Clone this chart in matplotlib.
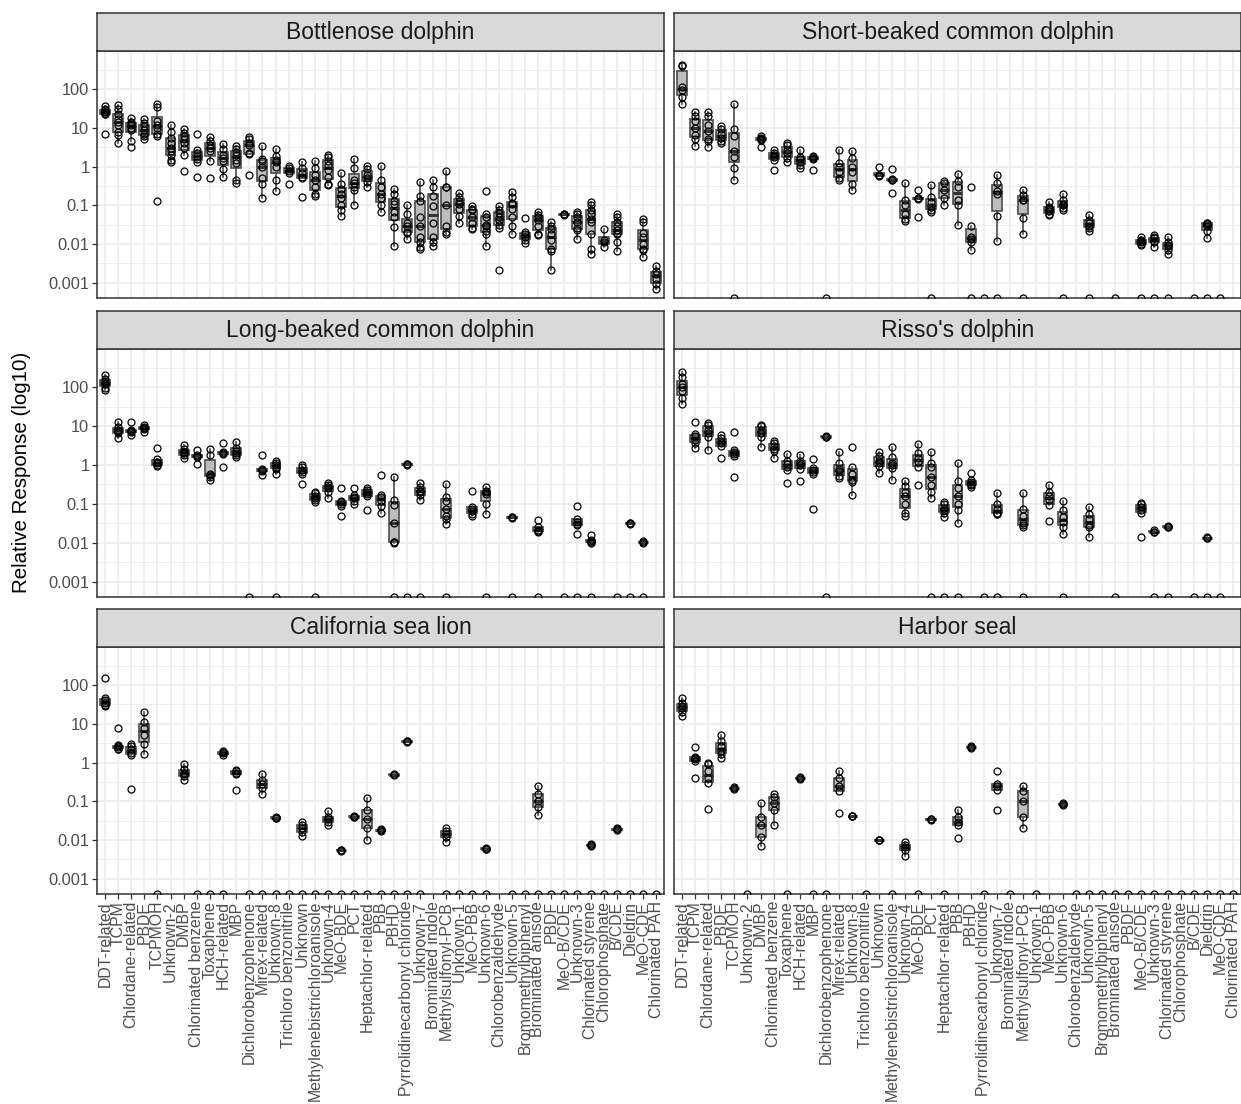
import numpy as np
import matplotlib
matplotlib.use("Agg")
import matplotlib.pyplot as plt
from matplotlib import cbook
from matplotlib.ticker import FixedLocator, NullFormatter

plt.rcParams['font.family'] = ['Liberation Sans', 'DejaVu Sans']

# categories on the x axis, in plot order
categories = [
    "DDT-related", "TCPM", "Chlordane-related", "PBDE", "TCPMOH", "Unknown-2", "DMBP",
    "Chlorinated benzene", "Toxaphene", "HCH-related", "MBP", "Dichlorobenzophenone",
    "Mirex-related", "Unknown-8", "Trichloro benzonitrile", "Unknown",
    "Methylenebistrichloroanisole", "Unknown-4", "MeO-BDE", "PCT", "Heptachlor-related",
    "PBB", "PBHD", "Pyrrolidinecarbonyl chloride", "Unknown-7", "Brominated indole",
    "Methylsulfonyl-PCB", "Unknown-1", "MeO-PBB", "Unknown-6", "Chlorobenzaldehyde",
    "Unknown-5", "Bromomethylbiphenyl", "Brominated anisole", "PBDF", "MeO-B/CDE",
    "Unknown-3", "Chlorinated styrene", "Chlorophosphate", "B/CDE", "Dieldrin", "MeO-CDE",
    "Chlorinated PAH",
]

# relative responses per individual (0 = not detected, drawn on the bottom edge)
bottlenose = {
    "DDT-related": [37, 30, 28, 26, 25, 23, 22, 6.8],
    "TCPM": [38, 30, 22, 17, 14, 12, 8, 6.5, 4],
    "Chlordane-related": [18, 14, 13, 12, 10, 9, 4.6, 3.2],
    "PBDE": [17, 13, 11, 9, 7, 6, 5],
    "TCPMOH": [40, 35, 15, 12, 10, 7, 6, 0.13],
    "Unknown-2": [12, 8, 5.5, 4, 3, 2.5, 2, 1.5, 1.3],
    "DMBP": [9.5, 7.5, 6, 5, 4, 3, 2, 0.75],
    "Chlorinated benzene": [7, 2.6, 2.2, 1.9, 1.6, 1.3, 0.55],
    "Toxaphene": [5.8, 4.5, 3.5, 3, 2.5, 1.4, 0.5],
    "HCH-related": [3.8, 2.8, 2, 1.7, 1.4, 0.85, 0.53],
    "MBP": [3.3, 2.8, 2.4, 2, 1.5, 1.2, 0.45, 0.38],
    "Dichlorobenzophenone": [5.9, 5, 4, 3.5, 2.2, 2.1, 0.6],
    "Mirex-related": [3.3, 1.6, 1.4, 1.0, 0.5, 0.35, 0.15],
    "Unknown-8": [2.8, 1.9, 1.5, 1.3, 1.0, 0.45, 0.24],
    "Trichloro benzonitrile": [1.05, 0.9, 0.75, 0.7, 0.36],
    "Unknown": [1.3, 0.9, 0.7, 0.55, 0.5, 0.16],
    "Methylenebistrichloroanisole": [1.4, 0.9, 0.6, 0.45, 0.3, 0.2, 0.17],
    "Unknown-4": [2.0, 1.8, 1.4, 1.1, 0.8, 0.55, 0.35, 0.33],
    "MeO-BDE": [0.68, 0.35, 0.27, 0.2, 0.15, 0.1, 0.075, 0.053],
    "PCT": [1.55, 0.9, 0.45, 0.38, 0.3, 0.25, 0.1],
    "Heptachlor-related": [1.05, 0.85, 0.6, 0.5, 0.4, 0.3],
    "PBB": [1.05, 0.45, 0.3, 0.2, 0.15, 0.1, 0.067],
    "PBHD": [0.27, 0.2, 0.13, 0.11, 0.067, 0.05, 0.027, 0.0087],
    "Pyrrolidinecarbonyl chloride": [0.1, 0.059, 0.035, 0.03, 0.021, 0.019, 0.0135],
    "Unknown-7": [0.4, 0.17, 0.13, 0.05, 0.03, 0.015, 0.011, 0.0084, 0.0076],
    "Brominated indole": [0.46, 0.3, 0.17, 0.094, 0.035, 0.015, 0.011, 0.0092],
    "Methylsulfonyl-PCB": [0.77, 0.3, 0.3, 0.1, 0.03, 0.02, 0.0185],
    "Unknown-1": [0.21, 0.16, 0.127, 0.11, 0.08, 0.052, 0.034],
    "MeO-PBB": [0.094, 0.082, 0.074, 0.05, 0.035, 0.026, 0.025],
    "Unknown-6": [0.23, 0.061, 0.05, 0.032, 0.03, 0.0217, 0.0185, 0.0092],
    "Chlorobenzaldehyde": [0.094, 0.074, 0.063, 0.05, 0.041, 0.032, 0.026, 0.0021],
    "Unknown-5": [0.22, 0.16, 0.115, 0.11, 0.08, 0.05, 0.03, 0.0185],
    "Bromomethylbiphenyl": [0.048, 0.02, 0.0185, 0.015, 0.013, 0.0106],
    "Brominated anisole": [0.067, 0.055, 0.05, 0.041, 0.029, 0.0178, 0.0168],
    "PBDF": [0.037, 0.03, 0.025, 0.0185, 0.013, 0.0076, 0.0066, 0.0021],
    "MeO-B/CDE": [0.06, 0.058, 0.056],
    "Unknown-3": [0.067, 0.059, 0.05, 0.037, 0.026, 0.0225, 0.0137],
    "Chlorinated styrene": [0.122, 0.1, 0.074, 0.061, 0.045, 0.037, 0.0185, 0.0076, 0.0056],
    "Chlorophosphate": [0.025, 0.013, 0.011, 0.0084],
    "B/CDE": [0.061, 0.05, 0.037, 0.029, 0.0235, 0.019, 0.0178, 0.0112, 0.0066],
    "MeO-CDE": [0.045, 0.037, 0.019, 0.0152, 0.0102, 0.0076, 0.0069, 0.0046],
    "Chlorinated PAH": [0.0028, 0.002, 0.0017, 0.00126, 0.00094, 0.0007],
}

short_beaked = {
    "DDT-related": [420, 400, 110, 95, 63, 40],
    "TCPM": [26, 20, 15, 9.6, 6.5, 5, 3.4],
    "Chlordane-related": [26, 20, 12, 8.4, 5, 4.5, 3.2],
    "PBDE": [11, 9.5, 7, 5.5, 4.5, 4],
    "TCPMOH": [41, 9.5, 6, 2.5, 1.8, 0.9, 0.45, 0],
    "DMBP": [6.2, 5.5, 5, 4.8, 3.2],
    "Chlorinated benzene": [2.6, 2.3, 2.0, 1.8, 1.5, 0.8],
    "Toxaphene": [4.1, 3.5, 2.6, 2.2, 1.7, 1.3],
    "HCH-related": [2.6, 1.8, 1.6, 1.3, 1.1, 0.9],
    "MBP": [1.9, 1.8, 1.7, 1.6, 0.8],
    "Dichlorobenzophenone": [0],
    "Mirex-related": [2.75, 1.2, 1.0, 0.72, 0.5, 0.45],
    "Unknown-8": [2.5, 1.7, 1.0, 0.72, 0.35, 0.25],
    "Unknown": [0.98, 0.62, 0.6, 0.58],
    "Methylenebistrichloroanisole": [0.89, 0.48, 0.46, 0.44, 0.21],
    "Unknown-4": [0.38, 0.14, 0.1, 0.06, 0.045, 0.04],
    "MeO-BDE": [0.25, 0.155, 0.15, 0.145, 0.05],
    "PCT": [0.33, 0.16, 0.12, 0.09, 0.075, 0.067, 0],
    "Heptachlor-related": [0.42, 0.38, 0.25, 0.15, 0.1],
    "PBB": [0.63, 0.43, 0.3, 0.14, 0.1, 0.032],
    "PBHD": [0.3, 0.03, 0.015, 0.0138, 0.011, 0.007, 0],
    "Pyrrolidinecarbonyl chloride": [0],
    "Unknown-7": [0.6, 0.38, 0.23, 0.2, 0.052, 0.0117, 0],
    "Methylsulfonyl-PCB": [0.25, 0.19, 0.135, 0.135, 0.047, 0.0185, 0],
    "MeO-PBB": [0.12, 0.091, 0.08, 0.07, 0.061, 0.055],
    "Unknown-6": [0.2, 0.14, 0.11, 0.1, 0.085, 0.074, 0],
    "Unknown-5": [0.055, 0.043, 0.035, 0.03, 0.026, 0.022, 0],
    "Brominated anisole": [0],
    "MeO-B/CDE": [0.015, 0.013, 0.012, 0.011, 0.0098, 0.0095, 0],
    "Unknown-3": [0.0167, 0.015, 0.014, 0.012, 0.011, 0.0084, 0],
    "Chlorinated styrene": [0.015, 0.0115, 0.0095, 0.009, 0.0072, 0.0056, 0],
    "B/CDE": [0],
    "Dieldrin": [0.036, 0.035, 0.033, 0.03, 0.022, 0.014, 0],
    "MeO-CDE": [0],
}

long_beaked = {
    "DDT-related": [210, 160, 140, 130, 120, 95, 87],
    "TCPM": [12.5, 9.5, 8, 7.5, 6.5, 5],
    "Chlordane-related": [12.5, 8, 7.5, 7, 6],
    "PBDE": [10.5, 9.5, 9, 8.5, 7.2],
    "TCPMOH": [2.8, 1.4, 1.2, 1.1, 1.0, 0.95],
    "DMBP": [3.2, 2.6, 2.2, 2, 1.8, 1.5],
    "Chlorinated benzene": [2.4, 1.8, 1.7, 1.6, 1.05],
    "Toxaphene": [2.6, 1.8, 0.6, 0.55, 0.5, 0.42],
    "HCH-related": [3.6, 2.1, 2.0, 1.95, 0.9],
    "MBP": [3.8, 2.8, 2.3, 2.0, 1.8, 1.6],
    "Dichlorobenzophenone": [0],
    "Mirex-related": [1.8, 0.8, 0.75, 0.72, 0.55],
    "Unknown-8": [1.3, 1.15, 1.0, 0.9, 0.81, 0.6, 0],
    "Unknown": [0.98, 0.9, 0.75, 0.65, 0.6, 0.32],
    "Methylenebistrichloroanisole": [0.2, 0.19, 0.16, 0.14, 0.126, 0.11, 0],
    "Unknown-4": [0.35, 0.3, 0.28, 0.26, 0.2, 0.14],
    "MeO-BDE": [0.25, 0.12, 0.11, 0.1, 0.09, 0.048],
    "PCT": [0.26, 0.17, 0.15, 0.14, 0.12, 0.1],
    "Heptachlor-related": [0.26, 0.23, 0.2, 0.18, 0.16, 0.07],
    "PBB": [0.55, 0.17, 0.15, 0.12, 0.09, 0.06],
    "PBHD": [0.48, 0.13, 0.093, 0.032, 0.0105, 0.0105, 0.01, 0],
    "Pyrrolidinecarbonyl chloride": [1.06, 1.04, 1.02, 0],
    "Unknown-7": [0.35, 0.27, 0.22, 0.2, 0.167, 0.13, 0],
    "Methylsulfonyl-PCB": [0.32, 0.15, 0.12, 0.076, 0.05, 0.04, 0.031, 0],
    "MeO-PBB": [0.22, 0.085, 0.075, 0.065, 0.055, 0.048],
    "Unknown-6": [0.27, 0.22, 0.2, 0.18, 0.1, 0.056, 0],
    "Unknown-5": [0.047, 0.045, 0.044, 0],
    "Brominated anisole": [0.038, 0.025, 0.022, 0.02, 0.019, 0],
    "MeO-B/CDE": [0],
    "Unknown-3": [0.087, 0.042, 0.035, 0.03, 0.028, 0.0167, 0],
    "Chlorinated styrene": [0.0155, 0.012, 0.011, 0.0105, 0.01, 0],
    "B/CDE": [0],
    "Dieldrin": [0.033, 0.032, 0.031, 0],
    "MeO-CDE": [0.011, 0.0105, 0.01, 0],
}

rissos = {
    "DDT-related": [250, 180, 120, 100, 80, 52, 37],
    "TCPM": [13, 6.2, 5.5, 4.5, 3.6, 2.7],
    "Chlordane-related": [12, 10.8, 8, 6.5, 5.4, 2.4],
    "PBDE": [6, 4.9, 4.2, 3.6, 3, 1.5],
    "TCPMOH": [6.9, 2.4, 2.1, 1.9, 1.7, 0.5],
    "DMBP": [10.8, 10, 8, 6.5, 5.4, 2.9],
    "Chlorinated benzene": [4.2, 3.6, 3, 2.6, 2.3, 1.5],
    "Toxaphene": [1.9, 1.3, 1.05, 0.9, 0.74, 0.35],
    "HCH-related": [1.85, 1.3, 1.1, 1.0, 0.8, 0.4],
    "MBP": [1.4, 0.85, 0.75, 0.65, 0.6, 0.076],
    "Dichlorobenzophenone": [5.5, 5.4, 5.3, 0],
    "Mirex-related": [2.2, 1.1, 0.8, 0.7, 0.52, 0.46],
    "Unknown-8": [2.9, 0.9, 0.6, 0.42, 0.37, 0.17],
    "Unknown": [2.1, 1.66, 1.3, 1.1, 0.93, 0.64],
    "Methylenebistrichloroanisole": [2.9, 1.6, 1.1, 1.0, 0.82, 0.41],
    "Unknown-4": [0.4, 0.29, 0.2, 0.16, 0.1, 0.059, 0.05],
    "MeO-BDE": [3.5, 2.0, 1.5, 1.2, 0.9, 0.3],
    "PCT": [2.1, 1.1, 0.9, 0.5, 0.3, 0.2, 0.14, 0],
    "Heptachlor-related": [0.11, 0.098, 0.08, 0.07, 0.059, 0.045, 0],
    "PBB": [1.15, 0.39, 0.25, 0.16, 0.1, 0.07, 0.032, 0],
    "PBHD": [0.64, 0.41, 0.36, 0.33, 0.3, 0.28],
    "Pyrrolidinecarbonyl chloride": [0],
    "Unknown-7": [0.19, 0.1, 0.075, 0.06, 0.056, 0.055, 0],
    "Methylsulfonyl-PCB": [0.19, 0.076, 0.05, 0.032, 0.028, 0.025, 0],
    "MeO-PBB": [0.3, 0.2, 0.16, 0.13, 0.093, 0.036],
    "Unknown-6": [0.118, 0.07, 0.045, 0.035, 0.026, 0.0166, 0],
    "Unknown-5": [0.083, 0.054, 0.04, 0.028, 0.025, 0.014],
    "Brominated anisole": [0],
    "MeO-B/CDE": [0.105, 0.1, 0.085, 0.07, 0.059, 0.014],
    "Unknown-3": [0.021, 0.0195, 0.0185, 0],
    "Chlorinated styrene": [0.027, 0.026, 0.025, 0],
    "B/CDE": [0],
    "Dieldrin": [0.014, 0.0135, 0.013, 0],
    "MeO-CDE": [0],
}

sea_lion = {
    "DDT-related": [150, 45, 40, 35, 30, 28],
    "TCPM": [8, 2.8, 2.6, 2.5, 2.3, 2.2],
    "Chlordane-related": [3, 2.6, 2.2, 1.8, 1.6, 0.21],
    "PBDE": [20, 11, 8, 5, 3, 1.7],
    "TCPMOH": [0],
    "DMBP": [0.9, 0.7, 0.55, 0.5, 0.45, 0.35],
    "Chlorinated benzene": [0],
    "Toxaphene": [0],
    "HCH-related": [2.0, 1.85, 1.75, 1.6, 0],
    "MBP": [0.65, 0.6, 0.55, 0.5, 0.2],
    "Dichlorobenzophenone": [0],
    "Mirex-related": [0.5, 0.35, 0.28, 0.22, 0.15, 0],
    "Unknown-8": [0.039, 0.038, 0.037, 0],
    "Trichloro benzonitrile": [0],
    "Unknown": [0.03, 0.024, 0.02, 0.016, 0.013, 0],
    "Methylenebistrichloroanisole": [0],
    "Unknown-4": [0.055, 0.04, 0.035, 0.03, 0.025, 0],
    "MeO-BDE": [0.0057, 0.0055, 0.0053, 0],
    "PCT": [0.042, 0.04, 0.039, 0],
    "Heptachlor-related": [0.12, 0.06, 0.035, 0.02, 0.01, 0],
    "PBB": [0.019, 0.018, 0.017, 0],
    "PBHD": [0.5, 0.48, 0],
    "Pyrrolidinecarbonyl chloride": [3.6, 3.5, 3.4, 0],
    "Unknown-7": [0],
    "Methylsulfonyl-PCB": [0.02, 0.017, 0.014, 0.012, 0.009, 0],
    "Unknown-1": [0],
    "MeO-PBB": [0],
    "Unknown-6": [0.0062, 0.006, 0.0058, 0],
    "Unknown-5": [0],
    "Bromomethylbiphenyl": [0],
    "Brominated anisole": [0.25, 0.15, 0.1, 0.07, 0.045, 0],
    "PBDF": [0],
    "MeO-B/CDE": [0],
    "Unknown-3": [0],
    "Chlorinated styrene": [0.0078, 0.0075, 0.0072, 0],
    "Chlorophosphate": [0],
    "B/CDE": [0.02, 0.019, 0.018, 0],
    "Dieldrin": [0],
    "MeO-CDE": [0],
    "Chlorinated PAH": [0],
}

harbor_seal = {
    "DDT-related": [45, 35, 28, 25, 20, 16],
    "TCPM": [2.5, 1.4, 1.3, 1.2, 1.1, 0.4],
    "Chlordane-related": [1.0, 0.9, 0.6, 0.4, 0.3, 0.065],
    "PBDE": [5, 3.5, 2.6, 2, 1.7, 1.3],
    "TCPMOH": [0.23, 0.22, 0.21],
    "Unknown-2": [0],
    "DMBP": [0.09, 0.04, 0.025, 0.012, 0.007],
    "Chlorinated benzene": [0.15, 0.13, 0.09, 0.06, 0.025],
    "Toxaphene": [0],
    "HCH-related": [0.42, 0.4, 0.38],
    "MBP": [0],
    "Dichlorobenzophenone": [0],
    "Mirex-related": [0.6, 0.4, 0.25, 0.18, 0.05],
    "Unknown-8": [0.043, 0.042, 0.041],
    "Trichloro benzonitrile": [0],
    "Unknown": [0.0102, 0.01, 0.0098],
    "Methylenebistrichloroanisole": [0],
    "Unknown-4": [0.009, 0.0075, 0.0065, 0.0055, 0.004],
    "MeO-BDE": [0],
    "PCT": [0.035, 0.034, 0.033],
    "Heptachlor-related": [0],
    "PBB": [0.06, 0.04, 0.03, 0.025, 0.011],
    "PBHD": [2.6, 2.5, 2.4],
    "Pyrrolidinecarbonyl chloride": [0],
    "Unknown-7": [0.6, 0.28, 0.25, 0.2, 0.06],
    "Brominated indole": [0],
    "Methylsulfonyl-PCB": [0.25, 0.18, 0.1, 0.04, 0.02],
    "Unknown-1": [0],
    "Unknown-6": [0.088, 0.085, 0.082],
    "Chlorobenzaldehyde": [0],
    "Unknown-5": [0],
    "Bromomethylbiphenyl": [0],
    "Brominated anisole": [0],
    "PBDF": [0],
    "MeO-B/CDE": [0],
    "Unknown-3": [0],
    "Chlorinated styrene": [0],
    "Chlorophosphate": [0],
    "B/CDE": [0],
    "Dieldrin": [0],
    "MeO-CDE": [0],
    "Chlorinated PAH": [0],
}

panels = [
    ("Bottlenose dolphin", bottlenose),
    ("Short-beaked common dolphin", short_beaked),
    ("Long-beaked common dolphin", long_beaked),
    ("Risso's dolphin", rissos),
    ("California sea lion", sea_lion),
    ("Harbor seal", harbor_seal),
]

W, H = 1241, 1104
fig = plt.figure(figsize=(W / 100, H / 100), dpi=100)
fig.patch.set_facecolor("white")


def px_axes(x0, y0, x1, y1):
    return fig.add_axes([x0 / W, 1 - y1 / H, (x1 - x0) / W, (y1 - y0) / H])


lefts = [97, 674]
pw = 567
rows = [(13, 51, 298), (311, 349, 597), (609, 647, 894)]
ymin, ymax = 10 ** -3.39, 10 ** 2.98
major = [1e-3, 1e-2, 1e-1, 1, 10, 100]
major_lab = ["0.001", "0.01", "0.1", "1", "10", "100"]
minor = [10 ** (k + 0.5) for k in range(-4, 3)]
dark = "#333333"

for n, (title, data) in enumerate(panels):
    r, c = divmod(n, 2)
    st, top, bot = rows[r]
    x0 = lefts[c]
    ax = px_axes(x0, top, x0 + pw, bot)
    ax.set_yscale("log")

    for i, cat in enumerate(categories):
        vals = np.array(data.get(cat, []), dtype=float)
        if vals.size == 0:
            continue
        nz = vals[vals > 0]
        zeros = vals[vals <= 0]
        if nz.size:
            # box statistics on the log10 scale, as the original plot does
            st_ = cbook.boxplot_stats(np.log10(nz), whis=1.5)[0]
            for k in ("med", "q1", "q3", "whislo", "whishi", "mean"):
                st_[k] = 10 ** st_[k]
            st_["fliers"] = []
            ax.bxp([st_], positions=[i], widths=0.75, patch_artist=True,
                   showfliers=False, showcaps=False, manage_ticks=False,
                   boxprops=dict(facecolor="#BDBDBD", edgecolor="#4D4D4D", lw=1.2),
                   medianprops=dict(color=dark, lw=2.2),
                   whiskerprops=dict(color="#4D4D4D", lw=1.2))
            ax.plot(np.full(nz.size, i), nz, "o", mfc="none", mec="black",
                    ms=5, mew=0.9, zorder=4)
        if zeros.size:
            ax.plot(np.full(zeros.size, i), np.full(zeros.size, ymin), "o",
                    mfc="none", mec="black", ms=5, mew=0.9, zorder=4)

    ax.set_xlim(-0.6, len(categories) - 0.4)
    ax.set_ylim(ymin, ymax)
    ax.yaxis.set_major_locator(FixedLocator(major))
    ax.yaxis.set_minor_locator(FixedLocator(minor))
    ax.yaxis.set_minor_formatter(NullFormatter())
    ax.set_xticks(range(len(categories)))
    ax.grid(True, which="major", color="#EBEBEB", lw=1.1)
    ax.grid(True, which="minor", axis="y", color="#EBEBEB", lw=0.6)
    ax.set_axisbelow(True)
    for s in ax.spines.values():
        s.set_color(dark)
        s.set_linewidth(1.1)
    ax.tick_params(which="minor", length=0)
    ax.tick_params(which="major", color=dark, length=3.5, width=0.9,
                   labelsize=11.8, labelcolor="#4D4D4D", pad=2)

    if c == 0:
        ax.set_yticklabels(major_lab)
    else:
        ax.tick_params(axis="y", which="both", length=0, labelleft=False)
    if r == 2:
        ax.set_xticklabels(categories, rotation=90, ha="center", va="top",
                           fontsize=11.4)
        ax.tick_params(axis="x", pad=1.5)
    else:
        ax.tick_params(axis="x", length=0, labelbottom=False)

    sax = px_axes(x0, st, x0 + pw, top)
    sax.set_facecolor("#D9D9D9")
    sax.set_xticks([])
    sax.set_yticks([])
    for s in sax.spines.values():
        s.set_color(dark)
        s.set_linewidth(1.1)
    sax.text(0.5, 0.5, title, ha="center", va="center", fontsize=16.5,
             color="#1A1A1A", transform=sax.transAxes)

fig.text(22 / W, 1 - 472 / H, "Relative Response (log10)", rotation=90,
         ha="center", va="center", fontsize=14.8, color="black")

fig.savefig("out.png", dpi=100)
